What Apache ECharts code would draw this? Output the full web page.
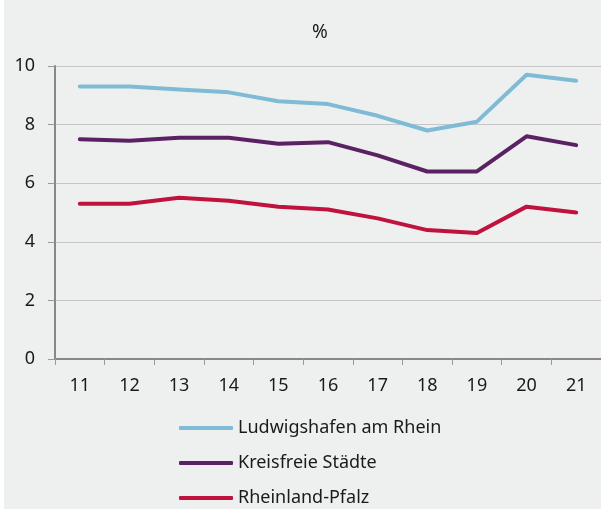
<!DOCTYPE html>
<html>
<head>
<meta charset="utf-8">
<script src="https://cdn.jsdelivr.net/npm/echarts@6/dist/echarts.min.js"></script>
<style>
html,body{margin:0;padding:0;background:#fff;}
#chart{width:601px;height:509px;}
</style>
</head>
<body>
<div id="chart"></div>
<script>
var categories = ['11','12','13','14','15','16','17','18','19','20','21'];
var ludwigshafen = [9.3, 9.3, 9.2, 9.1, 8.8, 8.7, 8.3, 7.8, 8.1, 9.7, 9.5];
var kreisfreie = [7.5, 7.45, 7.55, 7.55, 7.35, 7.4, 6.95, 6.4, 6.4, 7.6, 7.3];
var rheinlandPfalz = [5.3, 5.3, 5.5, 5.4, 5.2, 5.1, 4.8, 4.4, 4.3, 5.2, 5.0];
var seriesNames = ['Ludwigshafen am Rhein', 'Kreisfreie Städte', 'Rheinland-Pfalz'];
var seriesColors = ['#7FBBD6', '#5A2163', '#C0123E'];
var unitLabel = '%';

var FONT = '"Noto Sans", "Open Sans", sans-serif';
var chart = echarts.init(document.getElementById('chart'), null, {renderer: 'canvas'});

function mk(name, data, color) {
  return {
    name: name, type: 'line', data: data, symbol: 'none', smooth: false,
    lineStyle: {color: color, width: 4, cap: 'round', join: 'round'},
    itemStyle: {color: color},
    emphasis: {disabled: true}
  };
}
var legendCenters = [428, 463, 498];
var legends = seriesNames.map(function (n, i) {
  return {
    orient: 'vertical', left: 179, top: legendCenters[i] - 11, padding: 0,
    itemWidth: 54, itemHeight: 4, icon: 'roundRect',
    textStyle: {fontSize: 18, lineHeight: 22, color: '#1a1a1a', fontFamily: FONT},
    data: [n]
  };
});

chart.setOption({
  backgroundColor: '#EEF0EF',
  animation: false,
  textStyle: {fontFamily: FONT},
  graphic: [
    {type: 'rect', shape: {x: 0, y: 0, width: 4, height: 509}, style: {fill: '#ffffff'}, silent: true},
    {type: 'text', x: 320, y: 33, style: {text: unitLabel, fontSize: 19, fontFamily: FONT, fill: '#1a1a1a', align: 'center', verticalAlign: 'middle'}}
  ],
  grid: {left: 55, right: 0, top: 66, bottom: 150, containLabel: false},
  legend: legends,
  xAxis: {
    type: 'category', data: categories, boundaryGap: true,
    axisLine: {lineStyle: {color: '#888888', width: 2}},
    axisTick: {show: true, length: 6, lineStyle: {color: '#999999', width: 1}},
    axisLabel: {fontSize: 18, color: '#1a1a1a', margin: 18, fontFamily: FONT},
    splitLine: {show: false}
  },
  yAxis: {
    type: 'value', min: 0, max: 10, interval: 2,
    axisLine: {show: true, lineStyle: {color: '#888888', width: 2}},
    axisTick: {show: true, length: 7, lineStyle: {color: '#999999', width: 1}},
    axisLabel: {fontSize: 18, color: '#1a1a1a', margin: 20, fontFamily: FONT},
    splitLine: {show: true, lineStyle: {color: '#C6C6C6', width: 1}}
  },
  series: [
    mk(seriesNames[0], ludwigshafen, seriesColors[0]),
    mk(seriesNames[1], kreisfreie, seriesColors[1]),
    mk(seriesNames[2], rheinlandPfalz, seriesColors[2])
  ]
});
</script>
</body>
</html>
